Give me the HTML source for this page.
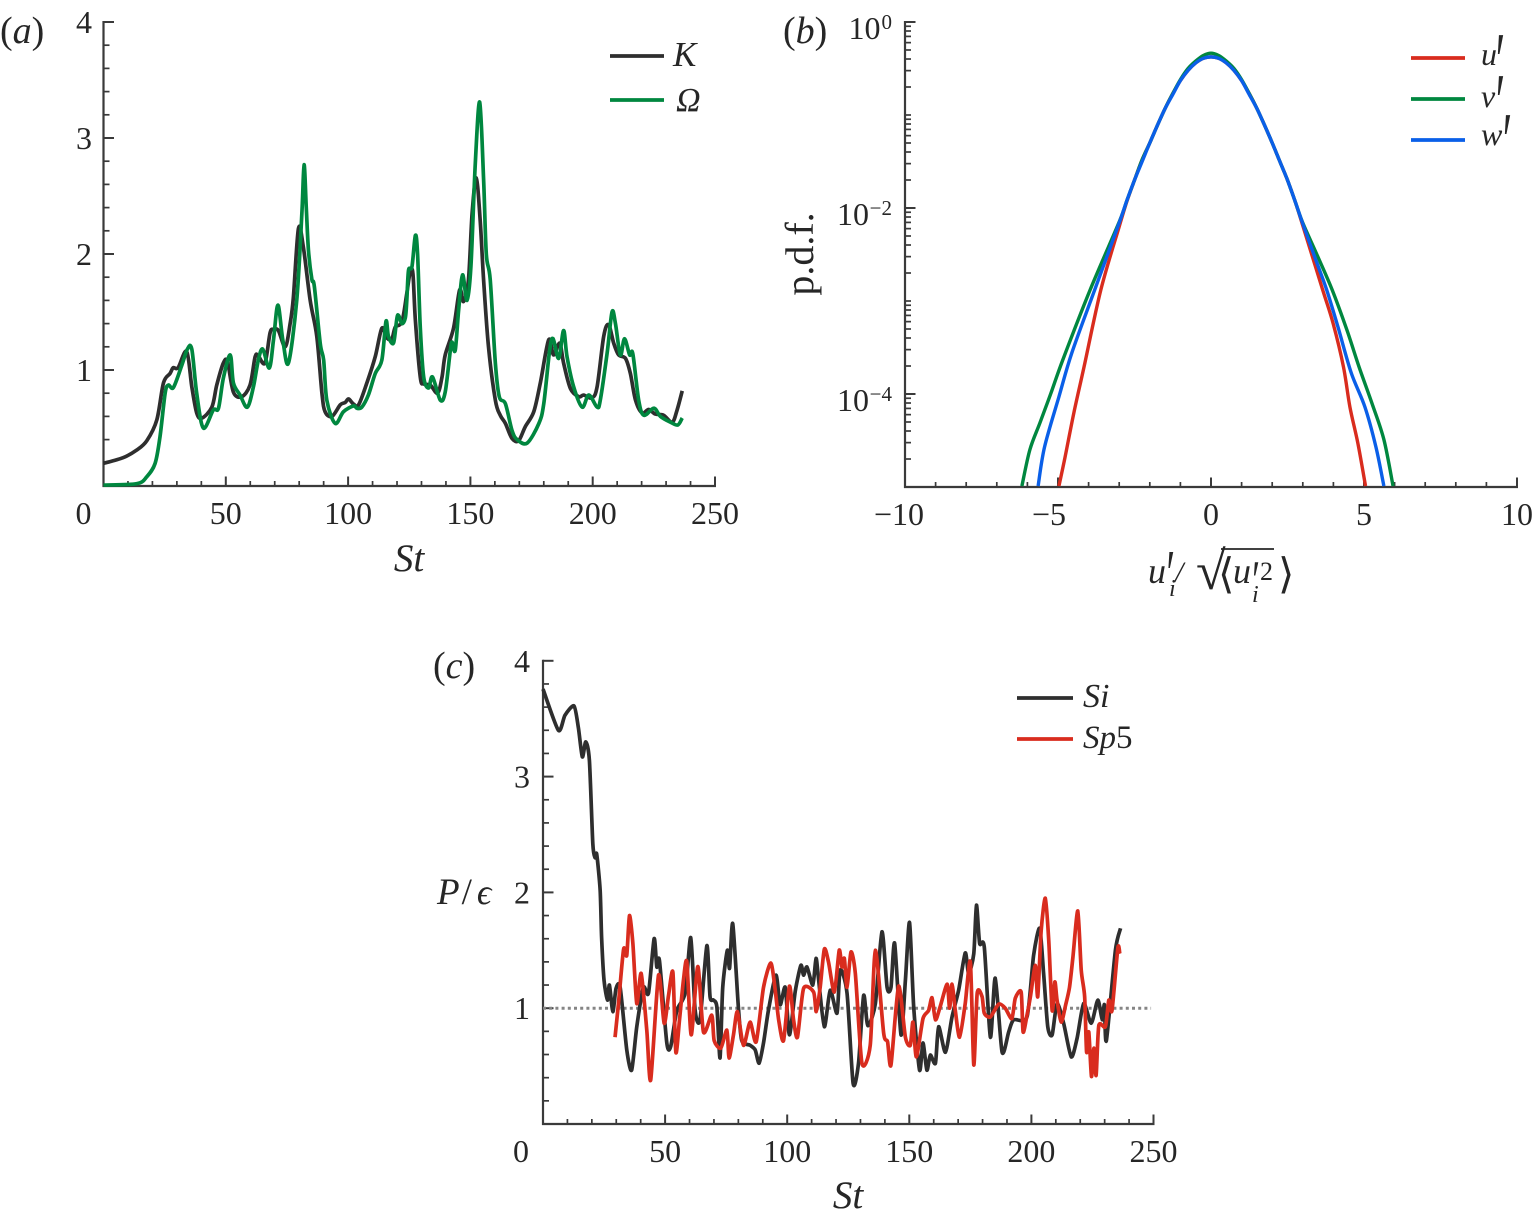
<!DOCTYPE html>
<html lang="en">
<head>
<meta charset="utf-8">
<title>Turbulence time series and p.d.f. panels</title>
<style>
html,body{margin:0;padding:0;background:#fff;}
svg{display:block;}
text{font-family:"Liberation Serif","DejaVu Serif",serif;fill:#262626;}
.it{font-style:italic;}
</style>
</head>
<body>
<svg id="fig" xmlns="http://www.w3.org/2000/svg" width="1533" height="1219" viewBox="0 0 1533 1219">
  <rect x="0" y="0" width="1533" height="1219" fill="#ffffff"/>
  <g id="panelA"></g>
  <g id="panelB"></g>
  <g id="panelC"></g>

  <text x="0" y="43" font-size="38">(<tspan class="it">a</tspan>)</text>
  <text x="783" y="43" font-size="38">(<tspan class="it">b</tspan>)</text>
  <text x="433" y="678" font-size="38">(<tspan class="it">c</tspan>)</text>

  <text x="409" y="571" font-size="39" class="it" text-anchor="middle">St</text>
  <text x="848" y="1208" font-size="39" class="it" text-anchor="middle">St</text>
  <text transform="translate(813,254) rotate(-90)" font-size="40" text-anchor="middle">p.d.f.</text>

  <text x="437" y="904" font-size="37" class="it">P<tspan font-style="normal" dx="2">/</tspan><tspan dx="5" font-size="36">ϵ</tspan></text>

  <g>
    <text x="1148" y="583" font-size="36" class="it">u</text>
    <text transform="translate(1164,596.5) scale(1,1.7)" font-size="40" class="it">′</text>
    <text x="1169" y="596" font-size="24" class="it">i</text>
    <text x="1175" y="582" font-size="30" class="it">/</text>
    <text x="1196" y="589" font-size="54">√</text>
    <line x1="1221" y1="549" x2="1274" y2="549" stroke="#262626" stroke-width="1.8"/>
    <text x="1218" y="588" font-size="42">⟨</text>
    <text x="1233" y="583" font-size="36" class="it">u</text>
    <text transform="translate(1250,599) scale(1,1.55)" font-size="36" class="it">′</text>
    <text x="1260" y="580" font-size="26">2</text>
    <text x="1252" y="602" font-size="24" class="it">i</text>
    <text x="1278" y="588" font-size="42">⟩</text>
  </g>

  <g>
    <line x1="610" y1="56" x2="664" y2="56" stroke="#2e2e2e" stroke-width="3.7"/>
    <text x="673" y="66" font-size="35" class="it">K</text>
    <line x1="610" y1="100" x2="664" y2="100" stroke="#00873f" stroke-width="3.7"/>
    <text x="676" y="111" font-size="34" class="it">Ω</text>
  </g>
  <g>
    <line x1="1411" y1="58" x2="1465" y2="58" stroke="#d92c1e" stroke-width="3.7"/>
    <text x="1481" y="65" font-size="32" class="it">u</text>
    <text transform="translate(1493,88) scale(1.1,2)" font-size="40" class="it">′</text>
    <line x1="1411" y1="99" x2="1465" y2="99" stroke="#00873f" stroke-width="3.7"/>
    <text x="1481" y="107" font-size="32" class="it">v</text>
    <text transform="translate(1493,129) scale(1.1,2)" font-size="40" class="it">′</text>
    <line x1="1411" y1="140" x2="1465" y2="140" stroke="#0a5fe8" stroke-width="3.7"/>
    <text x="1481" y="145" font-size="32" class="it">w</text>
    <text transform="translate(1500,168) scale(1.1,2)" font-size="40" class="it">′</text>
  </g>
  <g>
    <line x1="1017" y1="698" x2="1073" y2="698" stroke="#2e2e2e" stroke-width="3.7"/>
    <text x="1083" y="707" font-size="34" class="it">Si</text>
    <line x1="1017" y1="739" x2="1073" y2="739" stroke="#d92c1e" stroke-width="3.7"/>
    <text x="1083" y="748" font-size="33" class="it">Sp<tspan font-style="normal">5</tspan></text>
  </g>
</svg>

<script>
// ---------- Panel (a) data ----------
const aXTickValues = [0, 50, 100, 150, 200, 250];
const aXTickLabels = ['0', '50', '100', '150', '200', '250'];
const aYTickValues = [1, 2, 3, 4];
const aYTickLabels = ['1', '2', '3', '4'];
const kSt = [0,8,13.6,17.7,21.8,24.5,27.2,28.5,30.5,34,36.1,38.1,40.2,44.3,46.3,49,50.7,53.1,56.5,59.9,62,63.3,66,68.1,69.5,71.5,74.3,76.3,77.6,79.7,81.7,84.5,87.2,89.3,90.6,93.4,96.8,98.8,100.2,102.2,104.3,107.7,111.1,113.8,115.9,117.9,119.3,122,124,125.4,126.5,127.5,129.5,130.9,133.6,136.6,138.4,139.7,143.1,145.6,147.2,149.2,150.7,152.4,154,155.4,157.4,160.2,162.2,164.3,167,169.7,172.4,175.9,178.6,182,184,186.5,188.1,190.9,194.3,196.3,199.7,201.8,204.5,206.5,208.6,210.6,213.4,215.4,217.5,220.2,222.9,225.6,229,232.5,234.5,236.6];
const kValues = [0.195,0.244,0.31,0.39,0.57,0.887,0.97,1.02,1.02,1.16,0.856,0.63,0.585,0.68,0.87,1.06,1.07,0.81,0.77,0.87,1.115,1.12,1.06,1.32,1.35,1.34,1.2,1.4,1.62,2.22,2.06,1.6,1.29,0.8,0.64,0.6,0.7,0.72,0.75,0.707,0.7,0.89,1.115,1.36,1.275,1.27,1.37,1.416,1.66,1.85,1.83,1.43,0.94,0.88,0.87,0.8,0.94,1.13,1.36,1.69,1.59,1.775,2.35,2.655,2.29,1.775,1.2,0.74,0.61,0.54,0.41,0.39,0.51,0.64,0.89,1.26,1.13,1.23,1.06,0.84,0.77,0.784,0.76,0.855,1.29,1.39,1.23,1.13,1.1,0.97,0.74,0.63,0.66,0.62,0.61,0.55,0.655,0.82];
const omegaSt = [0,13.6,17.7,21.1,23.1,25.2,26.5,28.6,32,34.3,36.1,38.1,40.8,44.9,47,49,51.8,53.1,55.8,58.8,61.3,63.3,65.1,67.8,69.5,71.3,73.3,75.6,79,81.1,82,82.9,83.8,85.2,86.2,88.6,90,91.3,94.7,98.1,102.2,103.6,105.6,108.3,111.1,113.8,115.5,116.5,118.6,120.2,122,123.4,124,124.7,126.1,127.5,128.4,129.5,130.9,132.9,134.5,137.7,139.7,141.8,142.5,143.8,145.2,146.8,148.6,150.2,152,153.8,155.4,156.5,158.1,160.2,161.8,164.3,167,169.1,173.2,178,180,182.4,183.8,186.1,188.1,189.5,192.2,195.7,198.4,201.8,203.1,205.9,207.9,209.3,211.3,213,215.1,216.4,218.8,220.9,225,227.7,231.8,234.8,236.6];
const omegaValues = [0.008,0.02,0.08,0.195,0.425,0.8,0.87,0.85,1.04,1.18,1.18,0.8,0.5,0.655,0.67,0.93,1.13,0.89,0.785,0.68,0.856,1.086,1.18,1.017,1.26,1.56,1.26,1.06,1.6,2.35,2.77,2.4,2.03,1.78,1.72,1.23,1.086,0.74,0.54,0.64,0.69,0.67,0.68,0.785,0.97,1.086,1.42,1.29,1.235,1.47,1.4,1.45,1.6,1.86,1.89,2.16,2,1.37,0.94,0.845,0.94,0.74,0.81,1.17,1.24,1.17,1.52,1.82,1.6,1.89,2.78,3.31,2.64,2,1.78,1.06,0.77,0.71,0.48,0.4,0.37,0.54,0.71,1.17,1.27,1.1,1.34,1.115,0.856,0.68,0.785,0.68,0.74,1.146,1.5,1.4,1.13,1.27,1.13,1.14,0.74,0.61,0.67,0.6,0.55,0.526,0.586];

// ---------- Panel (b) data ----------
const bXTickValues = [-10, -5, 0, 5, 10];
const bXTickLabels = ['−10', '−5', '0', '5', '10'];
const bYTickExponents = [0, -2, -4];
const bYTickLabels = ['0', '−2', '−4'];
const uFluct = [-4.97,-4.77,-4.48,-4.15,-3.6,-3,-2.75,-2.5,-2.25,-2,-1.75,-1.5,-1.25,-1,-0.75,-0.5,-0.25,0,0.25,0.5,0.75,1,1.25,1.5,1.75,2,2.25,2.5,2.75,3,3.65,3.99,4.33,4.54,4.8,5.05];
const uLogPdf = [-4.99,-4.68,-4.2,-3.71,-2.88,-2.2,-1.93,-1.7,-1.48,-1.3,-1.11,-0.93,-0.77,-0.63,-0.52,-0.44,-0.39,-0.375,-0.39,-0.44,-0.52,-0.63,-0.77,-0.93,-1.11,-1.3,-1.5,-1.7,-1.93,-2.19,-2.88,-3.24,-3.71,-4.14,-4.53,-4.99];
const vFluct = [-6.18,-5.92,-5.59,-5.23,-4.84,-3.95,-3,-2.75,-2.5,-2.25,-2,-1.75,-1.5,-1.25,-1,-0.75,-0.5,-0.25,0,0.25,0.5,0.75,1,1.25,1.5,1.75,2,2.25,2.5,2.75,3,3.46,3.96,4.44,4.84,5.26,5.65,5.95];
const vLogPdf = [-4.99,-4.6,-4.31,-3.99,-3.63,-2.88,-2.15,-1.92,-1.7,-1.48,-1.3,-1.11,-0.93,-0.77,-0.62,-0.5,-0.42,-0.36,-0.335,-0.36,-0.42,-0.5,-0.62,-0.77,-0.93,-1.11,-1.3,-1.5,-1.7,-1.93,-2.16,-2.5,-2.88,-3.31,-3.71,-4.1,-4.49,-4.99];
const wFluct = [-5.65,-5.44,-4.97,-4.55,-3.8,-3,-2.75,-2.5,-2.25,-2,-1.75,-1.5,-1.25,-1,-0.75,-0.5,-0.25,0,0.25,0.5,0.75,1,1.25,1.5,1.75,2,2.25,2.5,2.75,3,3.46,3.78,4.15,4.58,5.03,5.39,5.65];
const wLogPdf = [-4.99,-4.57,-4.03,-3.56,-2.88,-2.16,-1.92,-1.7,-1.5,-1.3,-1.11,-0.93,-0.78,-0.63,-0.52,-0.44,-0.39,-0.375,-0.39,-0.44,-0.52,-0.63,-0.78,-0.93,-1.11,-1.3,-1.5,-1.7,-1.93,-2.17,-2.59,-2.88,-3.28,-3.77,-4.14,-4.57,-4.99];

// ---------- Panel (c) data ----------
const cXTickValues = [0, 50, 100, 150, 200, 250];
const cXTickLabels = ['0', '50', '100', '150', '200', '250'];
const cYTickValues = [1, 2, 3, 4];
const cYTickLabels = ['1', '2', '3', '4'];
const referenceLevel = [1, 1];
const referenceSt = [0, 249];
const siSt = [0,6.3,9,12.7,14.5,16.1,17.5,19,20.4,21.3,22,23.4,24,25,26.4,27.2,28.6,29.9,31.6,34.3,36.3,38.4,41.1,43.2,45.5,46.6,47.7,50.7,52.3,54.8,58.2,60.5,62.3,64.3,67.1,68.4,69.8,71.2,72.5,73.6,75.5,76.4,77.7,80,81.4,84.8,86.9,88.5,90.3,92.3,95.4,97.1,99.2,100.9,103.3,105.6,106.7,108.1,110.5,111.8,112.8,115.2,117.6,120.4,121.7,124.5,127,129.2,131.3,133,136.1,138.8,140.9,142.5,144,146.6,148.4,150.1,151.8,154.2,155.6,157.2,158.6,160.7,162,164.8,167.5,170.2,172.9,174.3,176.4,177.5,178.8,180.7,183.2,185.2,188,190.7,192.7,198.2,200.9,203.4,205,206.7,208.5,210.5,213.2,216.3,218.7,221.4,224.5,227.2,229,229.9,230.7,234.4,236.5];
const siValues = [3.756,3.4,3.53,3.61,3.42,3.17,3.3,3.14,2.42,2.3,2.33,2.02,1.61,1.24,1.07,1.2,0.97,1.17,1.18,0.64,0.465,0.84,1.18,1.13,1.6,1.356,1.41,0.7,0.67,0.98,1.13,1.61,0.98,0.9,1.54,1.1,1.07,1.01,0.57,1.18,1.5,1.345,1.73,1.01,0.72,0.68,0.64,0.525,0.7,0.98,1.285,1.03,1.18,0.77,1.147,1.37,1.285,1.356,1.2,1.43,1.26,0.84,1.155,0.957,1.33,1.13,0.35,0.525,1.11,0.85,1.04,1.66,1.18,1.18,1.56,0.77,1.24,1.74,1.01,0.465,0.7,0.465,0.595,0.525,0.84,0.62,0.925,1.155,1.477,1.3,1.47,1.89,1.56,1.53,0.75,1.26,0.62,0.795,0.9,0.925,1.456,1.69,1.3,0.84,0.77,1.04,0.87,0.58,0.74,1.04,0.87,1.07,0.9,1.03,0.72,1.5,1.69];
const sp5St = [29.5,30.9,33,34.3,35.4,36.8,38.4,40.2,42.5,44.1,47.3,49.6,51.4,53.2,54.4,55.9,57.5,58.9,60.7,63.4,65.7,69.1,70.1,72.8,75.3,76.2,78,79.6,82.1,84.8,87.3,90.3,93.3,95.1,96.5,98.5,100.9,102.6,104.2,106.7,110.8,111.9,113.5,115.2,116.9,119.3,121.3,122.4,123.4,124.5,126.1,127.9,130.6,134,136.1,139.5,141.1,142.5,145.6,148.4,150.4,151.5,152.9,155.6,157.9,159.3,160.7,162.7,165.5,166.5,167.5,168.9,170.6,172.9,175,176.4,177.8,179.8,180.7,183.2,186.6,189.3,192,193.4,195.8,196.6,198.2,199.6,201.6,202.6,204,205.7,207.1,208.5,209.6,210.5,212.2,214,215.6,217,219,220.4,221.8,222.6,223.5,224.6,225.6,226.5,227.6,230.3,231.7,233,235.4,236.2];
const sp5Values = [0.75,1.04,1.51,1.456,1.8,1.56,1.04,1.3,0.81,0.38,1.285,0.87,1.11,1.31,0.62,0.9,1.24,1.4,0.77,1.36,0.795,0.94,0.72,0.655,0.81,0.57,0.77,0.97,0.68,0.88,0.71,1.18,1.39,1.155,0.9,0.72,1.19,0.9,0.75,1.17,1.14,0.97,1.18,1.51,1.4,1.14,1.5,1.356,1.43,1.18,1.485,1.3,0.525,0.68,1.5,0.785,0.71,0.51,1.19,0.75,0.68,0.88,0.58,0.91,0.98,1.09,0.9,1.017,1.207,1,1.207,0.97,0.75,1.04,1.4,0.51,1.13,1.1,0.957,0.925,1.035,1,0.91,1.086,1.14,0.795,0.94,1.1,1.37,1.1,1.67,1.95,1.586,0.98,1.227,1.07,0.88,1.026,1.18,1.44,1.84,1.33,1.1,0.62,0.795,0.41,0.655,0.42,0.85,0.84,1.07,0.98,1.52,1.47];

// ---------- Axis functions ----------
const aX = v => 103.5 + 2.446 * v;
const aY = v => 486 - 116 * v;
const bX = v => 1211 + 30.6 * v;
const bY = e => 22 - 93 * e;
const cX = v => 543 + 2.442 * v;
const cY = v => 1124 - 115.8 * v;

const SVGNS = 'http://www.w3.org/2000/svg';
const AXIS_COLOR = '#3a3a3a';

function mk(tag, parent) {
  const el = document.createElementNS(SVGNS, tag);
  parent.appendChild(el);
  return el;
}

function seg(parent, x1, y1, x2, y2, width, name) {
  const l = mk('line', parent);
  l.setAttribute('x1', x1);
  l.setAttribute('y1', y1);
  l.setAttribute('x2', x2);
  l.setAttribute('y2', y2);
  l.setAttribute('stroke', AXIS_COLOR);
  l.setAttribute('stroke-width', width);
  
  
  return l;
}

function label(parent, x, y, str, size, anchor, name) {
  const t = mk('text', parent);
  t.setAttribute('x', x);
  t.setAttribute('y', y);
  t.setAttribute('font-size', size);
  t.setAttribute('text-anchor', anchor);
  
  
  t.textContent = str;
  return t;
}

// Catmull-Rom through the mapped data points, for the rounded look of the source curves
function curve(parent, xs, ys, xf, yf, color, width, name, tension) {
  const pts = xs.map((x, i) => [xf(x), yf(ys[i])]);
  let d = 'M' + pts[0][0].toFixed(2) + ' ' + pts[0][1].toFixed(2);
  for (let i = 0; i < pts.length - 1; i++) {
    const p0 = pts[Math.max(i - 1, 0)], p1 = pts[i], p2 = pts[i + 1], p3 = pts[Math.min(i + 2, pts.length - 1)];
    const c1x = p1[0] + (p2[0] - p0[0]) * tension, c1y = p1[1] + (p2[1] - p0[1]) * tension;
    const c2x = p2[0] - (p3[0] - p1[0]) * tension, c2y = p2[1] - (p3[1] - p1[1]) * tension;
    d += 'C' + c1x.toFixed(2) + ' ' + c1y.toFixed(2) + ' ' + c2x.toFixed(2) + ' ' + c2y.toFixed(2) + ' ' + p2[0].toFixed(2) + ' ' + p2[1].toFixed(2);
  }
  const p = mk('path', parent);
  p.setAttribute('d', d);
  p.setAttribute('fill', 'none');
  p.setAttribute('stroke', color);
  p.setAttribute('stroke-width', width);
  p.setAttribute('stroke-linejoin', 'round');
  p.setAttribute('stroke-linecap', 'butt');
  
  
  return p;
}

function linearAxes(parent, xf, yf, xTicks, xLabels, yTicks, yLabels, zeroShift, yLabelX) {
  const xMax = xTicks[xTicks.length - 1], yMax = yTicks[yTicks.length - 1];
  const y0 = yf(0), x0 = xf(0);
  seg(parent, x0, yf(yMax) - 1, x0, y0 + 1, 2.2, 'y-axis-line');
  seg(parent, x0 - 1, y0, xf(xMax) + 1, y0, 2.2, 'x-axis-line');
  for (let v = 10; v <= xMax; v += 10) {
    const major = v % 50 === 0;
    seg(parent, xf(v), y0, xf(v), y0 - (major ? 9.5 : 5), major ? 2 : 1.7, major ? 'x-major-tick' : 'x-minor-tick');
  }
  for (let k = 1; k <= yMax * 5; k++) {
    const v = k / 5;
    const major = k % 5 === 0;
    seg(parent, x0, yf(v), x0 + (major ? 10.5 : 6), yf(v), major ? 2 : 1.7, major ? 'y-major-tick' : 'y-minor-tick');
  }
  xTicks.forEach((v, i) => {
    label(parent, xf(v) + (v === 0 ? zeroShift : 0), y0 + 38, xLabels[i], 32, 'middle', 'x-tick-label');
  });
  yTicks.forEach((v, i) => {
    label(parent, yLabelX, yf(v) + 11, yLabels[i], 32, 'end', 'y-tick-label');
  });
}

// ---------- Panel (a) ----------
const panelA = document.getElementById('panelA');
linearAxes(panelA, aX, aY, aXTickValues, aXTickLabels, aYTickValues, aYTickLabels, -20, 92);
curve(panelA, kSt, kValues, aX, aY, '#2e2e2e', 3.7, 'series-k', 0.16);
curve(panelA, omegaSt, omegaValues, aX, aY, '#00873f', 3.7, 'series-omega', 0.16);

// ---------- Panel (b) ----------
const panelB = document.getElementById('panelB');
seg(panelB, bX(-10), bY(0) - 1, bX(-10), bY(-5) + 1, 2.2, 'y-axis-line');
seg(panelB, bX(-10) - 1, bY(-5), bX(10) + 1, bY(-5), 2.2, 'x-axis-line');
for (let v = -9; v <= 10; v++) {
  const major = v % 5 === 0;
  seg(panelB, bX(v), bY(-5), bX(v), bY(-5) - (major ? 9.5 : 5), major ? 2 : 1.7, major ? 'x-major-tick' : 'x-minor-tick');
}
for (let dec = 0; dec >= -4; dec--) {
  if (dec % 2 === 0) seg(panelB, bX(-10), bY(dec), bX(-10) + 10.5, bY(dec), 2, 'y-major-tick');
  else seg(panelB, bX(-10), bY(dec), bX(-10) + 6, bY(dec), 1.7, 'y-minor-tick');
  for (let m = 2; m <= 9; m++) {
    seg(panelB, bX(-10), bY(dec - 1 + Math.log10(m)), bX(-10) + 6, bY(dec - 1 + Math.log10(m)), 1.7, 'y-minor-tick');
  }
}
bXTickValues.forEach((v, i) => {
  const shift = v === -10 ? -6 : (v < 0 ? -9 : 0);
  label(panelB, bX(v) + shift, bY(-5) + 38, bXTickLabels[i], 32, 'middle', 'x-tick-label');
});
bYTickExponents.forEach((e, i) => {
  const sup = bYTickLabels[i];
  label(panelB, 892, bY(e) + 7, sup, 21, 'end', 'y-tick-exponent');
  const supWidth = sup.length > 1 ? 23 : 11.5;
  label(panelB, 892 - supWidth, bY(e) + 17, '10', 32, 'end', 'y-tick-label');
});
curve(panelB, uFluct, uLogPdf, bX, bY, '#d92c1e', 3.4, 'series-u', 0.16);
curve(panelB, vFluct, vLogPdf, bX, bY, '#00873f', 3.4, 'series-v', 0.16);
curve(panelB, wFluct, wLogPdf, bX, bY, '#0a5fe8', 3.4, 'series-w', 0.16);

// ---------- Panel (c) ----------
const panelC = document.getElementById('panelC');
linearAxes(panelC, cX, cY, cXTickValues, cXTickLabels, cYTickValues, cYTickLabels, -22, 530);
const refLine = mk('line', panelC);
refLine.setAttribute('x1', cX(referenceSt[0]));
refLine.setAttribute('y1', cY(referenceLevel[0]));
refLine.setAttribute('x2', cX(referenceSt[1]));
refLine.setAttribute('y2', cY(referenceLevel[1]));
refLine.setAttribute('stroke', '#858585');
refLine.setAttribute('stroke-width', '3');
refLine.setAttribute('stroke-dasharray', '3 3.2');


curve(panelC, siSt, siValues, cX, cY, '#2e2e2e', 3.7, 'series-si', 0.12);
curve(panelC, sp5St, sp5Values, cX, cY, '#d92c1e', 3.7, 'series-sp5', 0.12);
</script>
</body>
</html>
